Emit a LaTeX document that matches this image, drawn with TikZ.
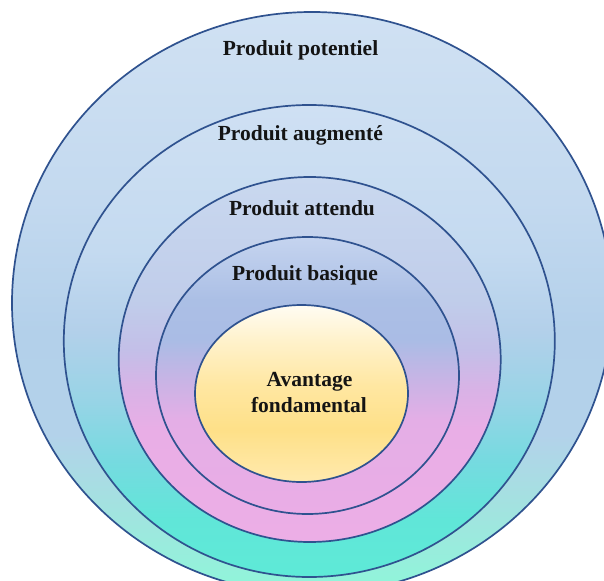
\documentclass[tikz,border=0pt]{standalone}
\usepackage{fontspec}
\setmainfont{Liberation Serif}
\usetikzlibrary{shapes.geometric}

% Vertical gradients for the five nested layers (path spans 25bp..75bp)
\pgfdeclareverticalshading{potshade}{100bp}{%
  color(0bp)=(rgb,255:red,142;green,247;blue,217);
  color(25bp)=(rgb,255:red,142;green,247;blue,217);
  color(32.6bp)=(rgb,255:red,163;green,226;blue,224);
  color(38.7bp)=(rgb,255:red,179;green,210;blue,234);
  color(47.4bp)=(rgb,255:red,179;green,208;blue,234);
  color(58.7bp)=(rgb,255:red,195;green,217;blue,239);
  color(75bp)=(rgb,255:red,208;green,225;blue,243);
  color(100bp)=(rgb,255:red,208;green,225;blue,243)}
\pgfdeclareverticalshading{augshade}{100bp}{%
  color(0bp)=(rgb,255:red,94;green,234;blue,215);
  color(25bp)=(rgb,255:red,94;green,234;blue,215);
  color(31bp)=(rgb,255:red,96;green,230;blue,216);
  color(37.4bp)=(rgb,255:red,118;green,218;blue,224);
  color(43.75bp)=(rgb,255:red,152;green,212;blue,230);
  color(51.2bp)=(rgb,255:red,179;green,208;blue,234);
  color(59.6bp)=(rgb,255:red,196;green,218;blue,240);
  color(75bp)=(rgb,255:red,207;green,224;blue,243);
  color(100bp)=(rgb,255:red,207;green,224;blue,243)}
\pgfdeclareverticalshading{attshade}{100bp}{%
  color(0bp)=(rgb,255:red,236;green,174;blue,230);
  color(25bp)=(rgb,255:red,236;green,174;blue,230);
  color(40.3bp)=(rgb,255:red,233;green,174;blue,230);
  color(45.8bp)=(rgb,255:red,217;green,178;blue,230);
  color(51.3bp)=(rgb,255:red,195;green,191;blue,232);
  color(58.2bp)=(rgb,255:red,192;green,205;blue,234);
  color(75bp)=(rgb,255:red,201;green,216;blue,239);
  color(100bp)=(rgb,255:red,201;green,216;blue,239)}
\pgfdeclareverticalshading{basshade}{100bp}{%
  color(0bp)=(rgb,255:red,234;green,173;blue,230);
  color(25bp)=(rgb,255:red,234;green,173;blue,230);
  color(42bp)=(rgb,255:red,228;green,174;blue,230);
  color(49.2bp)=(rgb,255:red,200;green,180;blue,229);
  color(56.4bp)=(rgb,255:red,170;green,188;blue,229);
  color(63.6bp)=(rgb,255:red,171;green,191;blue,229);
  color(75bp)=(rgb,255:red,197;green,212;blue,239);
  color(100bp)=(rgb,255:red,197;green,212;blue,239)}
\pgfdeclareverticalshading{coreshade}{100bp}{%
  color(0bp)=(rgb,255:red,255;green,234;blue,174);
  color(25bp)=(rgb,255:red,255;green,234;blue,174);
  color(39.7bp)=(rgb,255:red,254;green,224;blue,136);
  color(52.4bp)=(rgb,255:red,255;green,231;blue,162);
  color(65.1bp)=(rgb,255:red,255;green,242;blue,204);
  color(75bp)=(rgb,255:red,255;green,252;blue,243);
  color(100bp)=(rgb,255:red,255;green,252;blue,243)}

\definecolor{ringline}{RGB}{47,82,143}
\definecolor{labeltext}{RGB}{20,20,20}

\tikzset{
  layer/.style={ellipse, draw=ringline, line width=1.7pt,
    inner sep=0pt, outer sep=0pt},
  layertext/.style={anchor=base, text=labeltext, inner sep=0pt,
    font=\fontsize{21.5}{25}\selectfont\bfseries}
}

\begin{document}
\begin{tikzpicture}[x=1pt, y=-1pt]
  \useasboundingbox (0,0) rectangle (604,580);
  \clip (0,0) rectangle (604,580);
  \fill[white] (0,0) rectangle (604,580);

  % nested layers, outermost first
  \node[layer, shading=potshade, minimum width=600pt, minimum height=582pt]
    (potentiel) at (312,303) {};
  \node[layer, shading=augshade, minimum width=491pt, minimum height=472pt]
    (augmente) at (309.3,341) {};
  \node[layer, shading=attshade, minimum width=382pt, minimum height=365pt]
    (attendu) at (309.7,359.5) {};
  \node[layer, shading=basshade, minimum width=303pt, minimum height=277pt]
    (basique) at (307.5,375.5) {};
  \node[layer, shading=coreshade, minimum width=213pt, minimum height=177pt]
    (fondamental) at (301.5,393.5) {};

  % layer labels
  \node[layertext] (tpot) at (300.5,56) {Produit potentiel};
  \node[layertext] (taug) at (300.3,141) {Produit augmenté};
  \node[layertext] (tatt) at (302,215) {Produit attendu};
  \node[layertext] (tbas) at (305,280) {Produit basique};
  \node[layertext] (tav1) at (309.5,386) {Avantage};
  \node[layertext] (tav2) at (309,412) {fondamental};
\end{tikzpicture}
\end{document}
